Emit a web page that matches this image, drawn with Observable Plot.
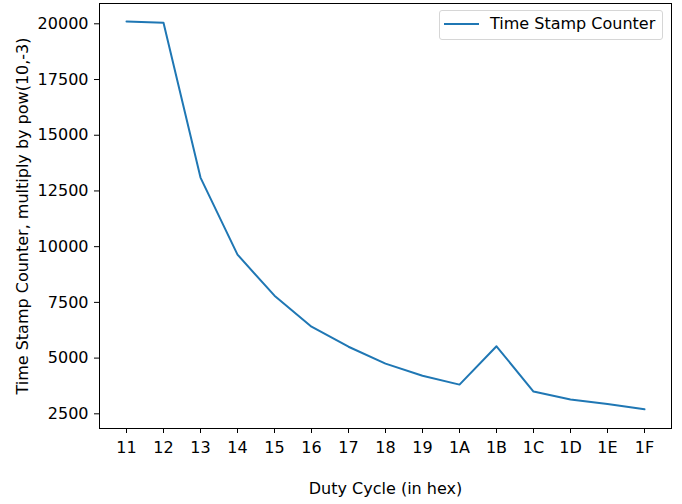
<!DOCTYPE html>
<html>
<head>
<meta charset="utf-8">
<script src="https://cdn.jsdelivr.net/npm/d3@7"></script>
<script src="https://cdn.jsdelivr.net/npm/@observablehq/plot@0.6"></script>
<style>
  html, body { margin: 0; padding: 0; background: #fff; }
  #wrap { position: relative; width: 682px; height: 504px; font-family: "DejaVu Sans", sans-serif; }
  #legend { position: absolute; left: 439px; top: 10px; width: 224px; height: 30px; border: 1px solid #d6d6d6; border-radius: 3px; background: rgba(255,255,255,0.8); box-sizing: border-box; }
  #legend .sw { position: absolute; left: 4px; top: 11.5px; width: 35px; height: 2px; background: #1f77b4; }
  #legend .lab { position: absolute; left: 50px; top: 3px; font-size: 16px; color: #000; white-space: nowrap; }
</style>
</head>
<body>
<div id="wrap"><div id="legend"><div class="sw"></div><div class="lab">Time Stamp Counter</div></div></div>
<script>
const dutyCycles = ["11","12","13","14","15","16","17","18","19","1A","1B","1C","1D","1E","1F"];
const tscValues = [20100, 20045, 13100, 9645, 7800, 6410, 5510, 4750, 4210, 3810, 5530, 3500, 3140, 2940, 2700];
const yTicks = [2500, 5000, 7500, 10000, 12500, 15000, 17500, 20000];
const seriesName = "Time Stamp Counter";
const xLabel = "Duty Cycle (in hex)";
const yLabel = "Time Stamp Counter, multiply by pow(10,-3)";

const data = dutyCycles.map((d, i) => ({duty: d, value: tscValues[i]}));

const chart = Plot.plot({
  width: 682,
  height: 504,
  marginLeft: 99,
  marginRight: 11,
  marginTop: 3,
  marginBottom: 76,
  style: {fontFamily: "DejaVu Sans, sans-serif", fontSize: "16px", color: "#000", background: "#fff"},
  x: {type: "point", domain: dutyCycles, padding: 0.7},
  y: {domain: [1841, 20911]},
  marks: [
    Plot.frame({stroke: "#000", strokeWidth: 1}),
    Plot.axisX({tickSize: 5, tickPadding: 8, label: null, fontSize: 16}),
    Plot.axisY({ticks: yTicks, tickSize: 5, tickPadding: 6, label: null, fontSize: 16, tickFormat: d => String(d)}),
    Plot.line(data, {x: "duty", y: "value", stroke: "#1f77b4", strokeWidth: 2}),
    Plot.text([xLabel], {text: d => d, frameAnchor: "bottom", dy: 60, textAnchor: "middle", lineAnchor: "middle", fontSize: 16, fill: "#000"}),
    Plot.text([yLabel], {text: d => d, frameAnchor: "left", dx: -77, rotate: -90, textAnchor: "middle", lineAnchor: "middle", fontSize: 16, fill: "#000"})
  ]
});
document.getElementById("wrap").prepend(chart);
</script>
</body>
</html>
